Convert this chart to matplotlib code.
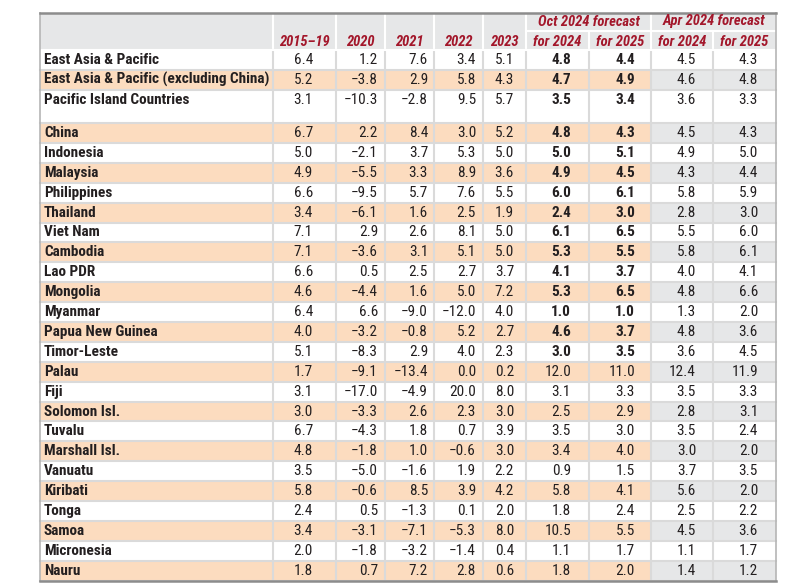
import matplotlib
import matplotlib.pyplot as plt
from matplotlib.patches import Rectangle

matplotlib.use("Agg")

# data
countries = ["East Asia & Pacific", "East Asia & Pacific (excluding China)",
             "Pacific Island Countries", "China", "Indonesia", "Malaysia",
             "Philippines", "Thailand", "Viet Nam", "Cambodia", "Lao PDR",
             "Mongolia", "Myanmar", "Papua New Guinea", "Timor-Leste", "Palau",
             "Fiji", "Solomon Isl.", "Tuvalu", "Marshall Isl.", "Vanuatu",
             "Kiribati", "Tonga", "Samoa", "Micronesia", "Nauru"]
avg_2015_19 = [6.4, 5.2, 3.1, 6.7, 5.0, 4.9, 6.6, 3.4, 7.1, 7.1, 6.6, 4.6, 6.4,
               4.0, 5.1, 1.7, 3.1, 3.0, 6.7, 4.8, 3.5, 5.8, 2.4, 3.4, 2.0, 1.8]
y2020 = [1.2, -3.8, -10.3, 2.2, -2.1, -5.5, -9.5, -6.1, 2.9, -3.6, 0.5, -4.4,
         6.6, -3.2, -8.3, -9.1, -17.0, -3.3, -4.3, -1.8, -5.0, -0.6, 0.5,
         -3.1, -1.8, 0.7]
y2021 = [7.6, 2.9, -2.8, 8.4, 3.7, 3.3, 5.7, 1.6, 2.6, 3.1, 2.5, 1.6, -9.0,
         -0.8, 2.9, -13.4, -4.9, 2.6, 1.8, 1.0, -1.6, 8.5, -1.3, -7.1, -3.2,
         7.2]
y2022 = [3.4, 5.8, 9.5, 3.0, 5.3, 8.9, 7.6, 2.5, 8.1, 5.1, 2.7, 5.0, -12.0,
         5.2, 4.0, 0.0, 20.0, 2.3, 0.7, -0.6, 1.9, 3.9, 0.1, -5.3, -1.4, 2.8]
y2023 = [5.1, 4.3, 5.7, 5.2, 5.0, 3.6, 5.5, 1.9, 5.0, 5.0, 3.7, 7.2, 4.0,
         2.7, 2.3, 0.2, 8.0, 3.0, 3.9, 3.0, 2.2, 4.2, 2.0, 8.0, 0.4, 0.6]
oct_2024 = [4.8, 4.7, 3.5, 4.8, 5.0, 4.9, 6.0, 2.4, 6.1, 5.3, 4.1, 5.3, 1.0,
            4.6, 3.0, 12.0, 3.1, 2.5, 3.5, 3.4, 0.9, 5.8, 1.8, 10.5, 1.1, 1.8]
oct_2025 = [4.4, 4.9, 3.4, 4.3, 5.1, 4.5, 6.1, 3.0, 6.5, 5.5, 3.7, 6.5, 1.0,
            3.7, 3.5, 11.0, 3.3, 2.9, 3.0, 4.0, 1.5, 4.1, 2.4, 5.5, 1.7, 2.0]
apr_2024 = [4.5, 4.6, 3.6, 4.5, 4.9, 4.3, 5.8, 2.8, 5.5, 5.8, 4.0, 4.8, 1.3,
            4.8, 3.6, 12.4, 3.5, 2.8, 3.5, 3.0, 3.7, 5.6, 2.5, 4.5, 1.1, 1.4]
apr_2025 = [4.3, 4.8, 3.3, 4.3, 5.0, 4.4, 5.9, 3.0, 6.0, 6.1, 4.1, 6.6, 2.0,
            3.6, 4.5, 11.9, 3.3, 3.1, 2.4, 2.0, 3.5, 2.0, 2.2, 3.6, 1.7, 1.2]
year_labels = ["2015\u201319", "2020", "2021", "2022", "2023",
               "for 2024", "for 2025", "for 2024", "for 2025"]
group_labels = ["Oct 2024 forecast", "Apr 2024 forecast"]
shaded_rows = [1, 3, 5, 7, 9, 11, 13, 15, 17, 19, 21, 23, 25]
n_bold_rows = 15  # Oct forecasts in bold down to Timor-Leste

series = [avg_2015_19, y2020, y2021, y2022, y2023,
          oct_2024, oct_2025, apr_2024, apr_2025]

# layout (pixels)
W, H = 808, 585
col_edges = [40, 273, 336, 385, 434, 483, 526, 589, 651, 713, 776]
num_right = [313, 378, 428, 476, 514, 571, 635, 696, 758]
head_top, head_mid, head_bot = 13, 31, 50
row_h = 19.9
heights = [row_h] * len(countries)
heights[2] = 33.2

PEACH = "#fcdcbf"
GREY = "#e6e7e8"
RED = "#a3172b"
TXT = "#231f20"
LINE = "#dadada"

plt.rcParams["font.family"] = ["Roboto Condensed", "PT Sans Narrow",
                               "Archivo Narrow", "Fira Sans Condensed",
                               "Liberation Sans", "DejaVu Sans"]

fig = plt.figure(figsize=(W / 100, H / 100), dpi=100)
ax = fig.add_axes([0, 0, 1, 1])
ax.set_xlim(0, W)
ax.set_ylim(H, 0)
ax.axis("off")

# header
ax.add_patch(Rectangle((col_edges[0], head_top), col_edges[-1] - col_edges[0],
                       head_bot - head_top, facecolor=GREY, edgecolor="none"))
for i, lab in enumerate(year_labels):
    cx = (col_edges[i + 1] + col_edges[i + 2]) / 2
    ax.text(cx, 41.5, lab, ha="center", va="center", color=RED,
            fontsize=10.5, fontweight="bold", style="italic")
for g, lab in enumerate(group_labels):
    x0, x1 = col_edges[6 + 2 * g], col_edges[8 + 2 * g]
    ax.text((x0 + x1) / 2, 21.5, lab, ha="center", va="center", color=RED,
            fontsize=10.5, fontweight="bold", style="italic")
    ax.plot([x0, x1], [head_mid, head_mid], color="white", lw=1.5)

# body
y = head_bot
for r, name in enumerate(countries):
    h = heights[r]
    if r in shaded_rows:
        ax.add_patch(Rectangle((col_edges[0], y), col_edges[8] - col_edges[0], h,
                               facecolor=PEACH, edgecolor="none"))
        ax.add_patch(Rectangle((col_edges[8], y), col_edges[-1] - col_edges[8], h,
                               facecolor=GREY, edgecolor="none"))
    ty = y + row_h / 2
    ax.text(col_edges[0] + 4, ty, name, ha="left", va="center", color=TXT,
            fontsize=11, fontweight="bold")
    for c, vals in enumerate(series):
        v = vals[r]
        s = f"{abs(v):.1f}"
        if v < 0:
            s = "\u2212" + s
        bold = c in (5, 6) and r < n_bold_rows
        ax.text(num_right[c], ty, s, ha="right", va="center", color=TXT,
                fontsize=11, fontweight="bold" if bold else "normal")
    y += h
    ax.plot([col_edges[0], col_edges[-1]], [y, y], color=LINE, lw=1.5)

bottom = y
# vertical separators (white inside the grey header, light grey below)
for i, x in enumerate(col_edges[1:-1], start=1):
    top = head_mid if i in (7, 9) else head_top
    ax.plot([x, x], [top, head_bot], color="white", lw=1.5)
    ax.plot([x, x], [head_bot, bottom], color=LINE, lw=1.5)
ax.plot([col_edges[0], col_edges[-1]], [head_bot, head_bot], color="white", lw=1.5)
ax.plot([col_edges[0], col_edges[0]], [head_top, bottom], color="#b5b5b5", lw=1.2)
ax.plot([col_edges[-1], col_edges[-1]], [head_top, bottom], color="#b5b5b5", lw=1.2)
ax.plot([col_edges[0], col_edges[-1]], [head_top, head_top], color="#8c8c8c", lw=1.8)
ax.plot([col_edges[0], col_edges[-1]], [bottom, bottom], color="#8c8c8c", lw=1.8)

plt.savefig("out.png", dpi=100)
